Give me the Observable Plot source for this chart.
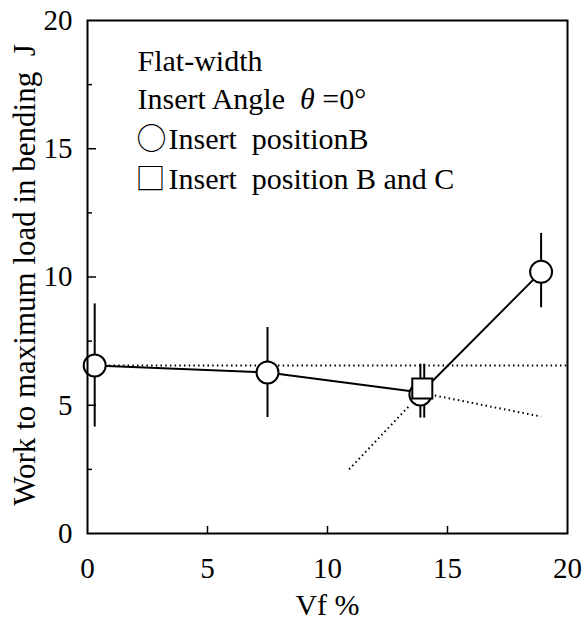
<!DOCTYPE html>
<html>
<head>
<meta charset="utf-8">
<script src="https://cdn.jsdelivr.net/npm/d3@7"></script>
<script src="https://cdn.jsdelivr.net/npm/@observablehq/plot@0.6"></script>
<style>
  html, body { margin: 0; padding: 0; background: white; }
</style>
</head>
<body>
<div id="chart"></div>
<script>
// Insert position B (circles)
const vfB = [0.3, 7.5, 13.87, 18.9];
const workB = [6.55, 6.28, 5.42, 10.2];
const workBLow = [4.15, 4.52, 4.5, 8.8];
const workBHigh = [8.95, 8.03, 6.6, 11.7];

// Insert position B and C (square)
const vfBC = [13.95];
const workBC = [5.65];
const errXBC = [14.03];
const workBCLow = [4.5];
const workBCHigh = [6.6];

// Solid connecting line
const lineVf = [0.3, 7.5, 13.9, 18.9];
const lineWork = [6.55, 6.28, 5.5, 10.2];

// Dotted reference lines
const dotted = [
  {id: "a", vf: [0.3, 20], work: [6.55, 6.55]},
  {id: "b", vf: [14.47, 18.9], work: [5.38, 4.56]},
  {id: "c", vf: [10.9, 13.42], work: [2.5, 4.99]}
];

// Axis ticks and texts
const xTicks = [0, 5, 10, 15, 20];
const yTicks = [0, 5, 10, 15, 20];
const xInner = [5, 10, 15];
const yMajorInner = [5, 10, 15];
const yMinorInner = [2.5, 7.5, 12.5, 17.5];
const xLabel = "Vf %";
const yLabel = "Work to maximum load in bending\u00a0\u00a0J";
const legendLines = [
  "Flat-width",
  "Insert Angle\u00a0\u00a0θ =0°",
  "Insert\u00a0\u00a0positionB",
  "Insert\u00a0\u00a0position B and C"
];
const legendSymbols = ["○", "□"];

const circles = vfB.map((v, i) => ({vf: v, work: workB[i], lo: workBLow[i], hi: workBHigh[i]}));
const squares = vfBC.map((v, i) => ({vf: v, work: workBC[i], ex: errXBC[i], lo: workBCLow[i], hi: workBCHigh[i]}));
const line = lineVf.map((v, i) => ({vf: v, work: lineWork[i]}));
const dottedPts = dotted.flatMap(d => d.vf.map((v, i) => ({id: d.id, vf: v, work: d.work[i]})));

const serif = "Liberation Serif";
const cjk = "Noto Sans CJK JP";

const legendText = (txt, dx, dy, font = serif) =>
  Plot.text([txt], {text: d => d, frameAnchor: "top-left", textAnchor: "start", lineAnchor: "bottom", dx, dy, fontSize: 30, fontFamily: font});

const chart = Plot.plot({
  width: 583,
  height: 621,
  marginLeft: 87,
  marginRight: 16,
  marginTop: 20,
  marginBottom: 88,
  style: {fontFamily: serif, fontSize: "29px", background: "white", color: "black", overflow: "visible"},
  x: {domain: [0, 20]},
  y: {domain: [0, 20]},
  marks: [
    Plot.axisX({ticks: xTicks, tickSize: 0, tickPadding: 24, label: null, fontSize: 29, fontFamily: serif}),
    Plot.axisY({ticks: yTicks, tickSize: 0, tickPadding: 15, label: null, fontSize: 29, fontFamily: serif}),
    Plot.axisX({ticks: xInner, tickSize: 7, dy: -7, tickFormat: () => "", label: null, strokeWidth: 1.5}),
    Plot.axisY({ticks: yMajorInner, tickSize: 9, dx: 9, tickFormat: () => "", label: null, strokeWidth: 1.5}),
    Plot.axisY({ticks: yMinorInner, tickSize: 5, dx: 5, tickFormat: () => "", label: null, strokeWidth: 1.5}),
    Plot.line(dottedPts, {x: "vf", y: "work", z: "id", stroke: "black", strokeWidth: 2, strokeDasharray: "1.5,3.2", strokeLinecap: "butt"}),
    Plot.line(line, {x: "vf", y: "work", stroke: "black", strokeWidth: 2}),
    Plot.ruleX(circles, {x: "vf", y1: "lo", y2: "hi", stroke: "black", strokeWidth: 2}),
    Plot.ruleX(squares, {x: "ex", y1: "lo", y2: "hi", stroke: "black", strokeWidth: 2}),
    Plot.dot(circles, {x: "vf", y: "work", r: 11, fill: "white", stroke: "black", strokeWidth: 2}),
    Plot.dot(squares, {x: "vf", y: "work", r: 11.3, symbol: "square", fill: "white", stroke: "black", strokeWidth: 2}),
    Plot.frame({stroke: "black", strokeWidth: 2}),
    // legend text
    legendText(legendLines[0], 50, 50),
    legendText(legendLines[1], 50, 88),
    legendText(legendSymbols[0], 49, 128, cjk),
    legendText(legendLines[2], 81, 128),
    legendText(legendSymbols[1], 48, 168, cjk),
    legendText(legendLines[3], 81, 168),
    // axis titles
    Plot.text([xLabel], {text: d => d, frameAnchor: "bottom", textAnchor: "middle", lineAnchor: "bottom", dy: 81, fontSize: 30, fontFamily: serif}),
    Plot.text([yLabel], {text: d => d, frameAnchor: "left", textAnchor: "middle", lineAnchor: "middle", rotate: -90, dx: -62, dy: -2, fontSize: 31, fontFamily: serif})
  ]
});

// italicise theta in the angle line
d3.select(chart).selectAll("text").each(function() {
  if (this.textContent === legendLines[1]) {
    const t = d3.select(this);
    t.text(null);
    t.append("tspan").text("Insert Angle\u00a0\u00a0");
    t.append("tspan").attr("font-style", "italic").text("θ");
    t.append("tspan").text(" =0°");
  }
});

document.getElementById("chart").appendChild(chart);
</script>
</body>
</html>
